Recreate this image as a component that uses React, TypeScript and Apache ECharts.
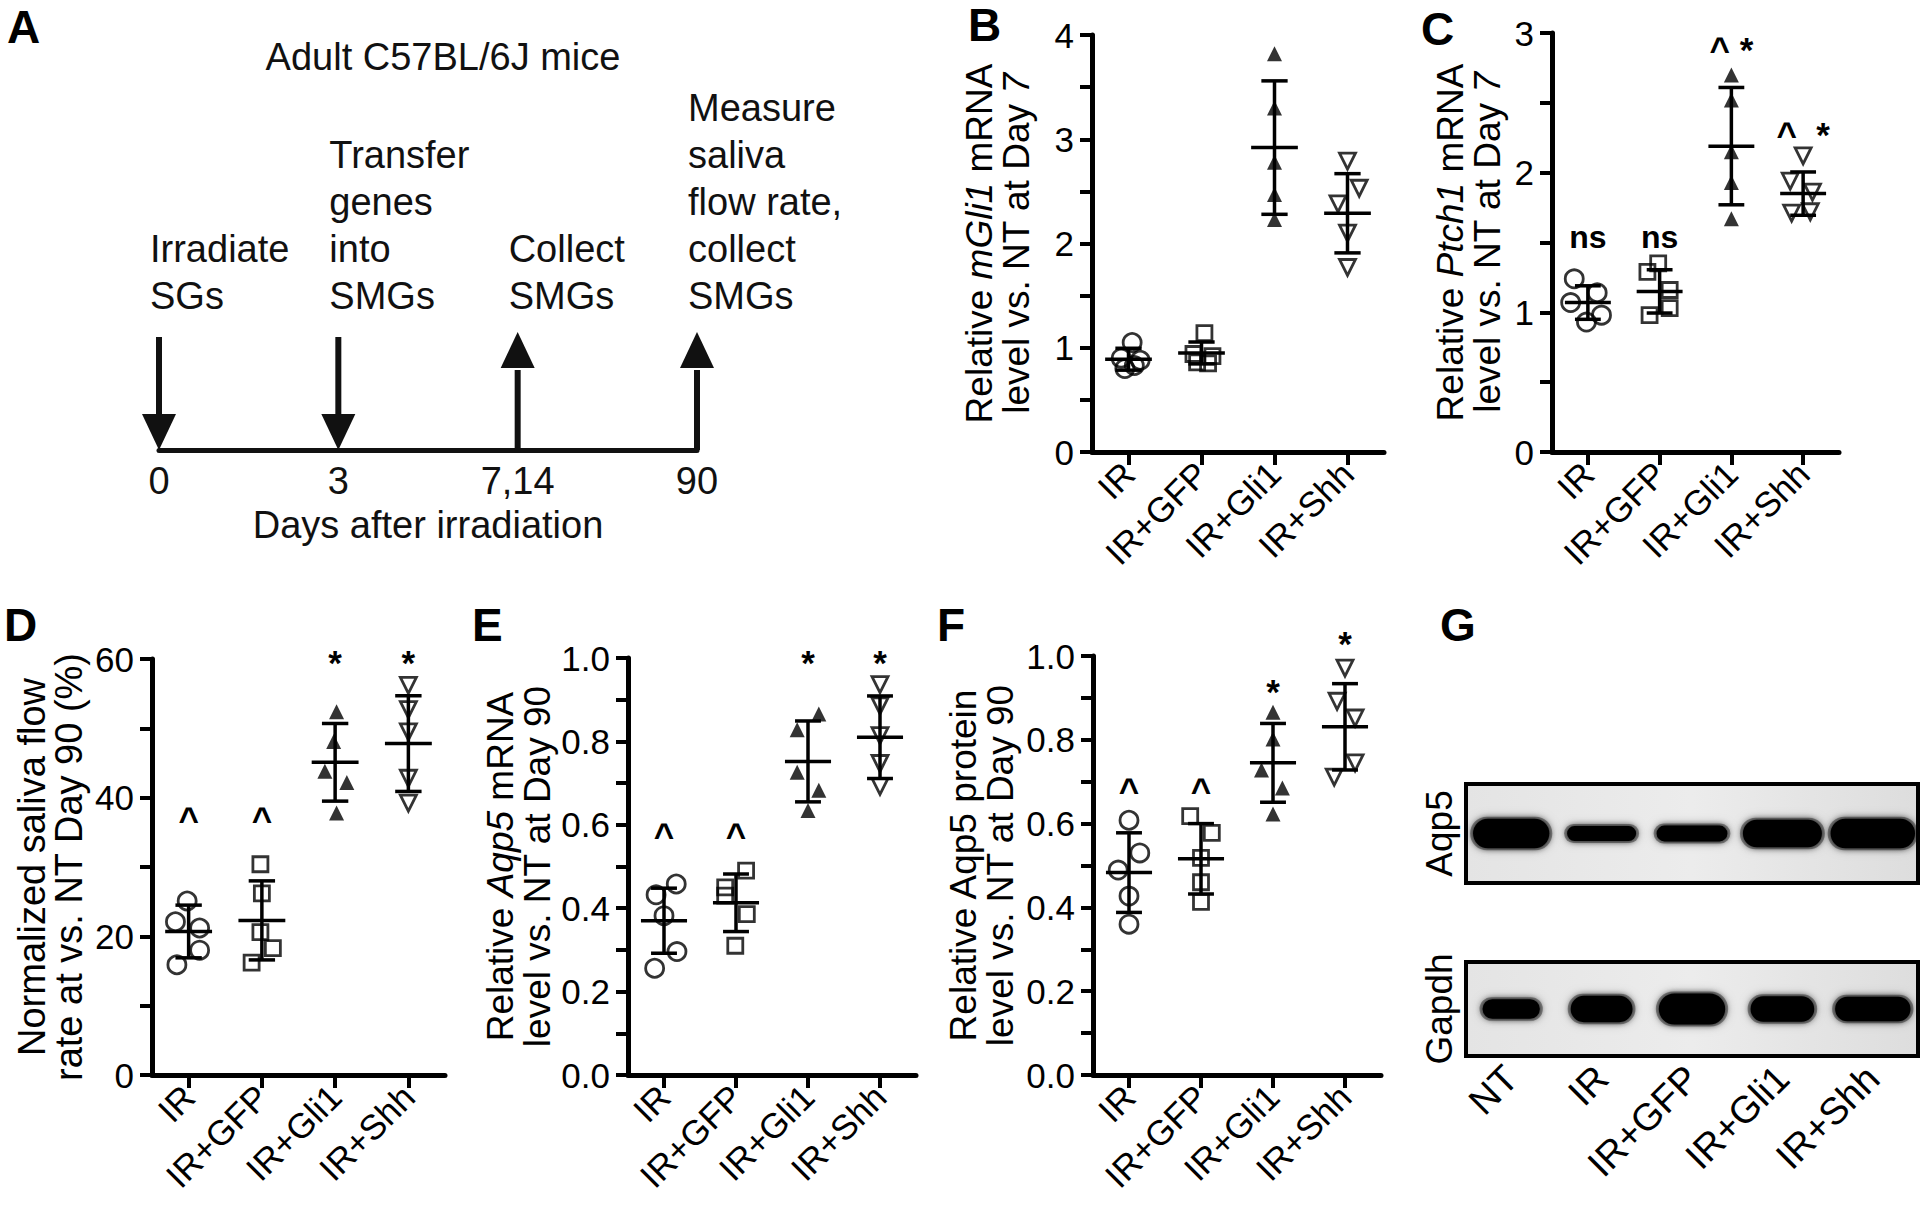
import React, { useEffect, useRef } from "react";
import * as echarts from "echarts";

const FONT = "'Liberation Sans', Arial, Helvetica, sans-serif";

// ---------- categories ----------
const groups = ["IR", "IR+GFP", "IR+Gli1", "IR+Shh"];
const blotLanes = ["NT", "IR", "IR+GFP", "IR+Gli1", "IR+Shh"];

// ---------- Panel A: timeline ----------
const timelineTicks = ["0", "3", "7,14", "90"];
const timelineEvents = [
  "Irradiate\nSGs",
  "Transfer\ngenes\ninto\nSMGs",
  "Collect\nSMGs",
  "Measure\nsaliva\nflow rate,\ncollect\nSMGs",
];
const timelineDirections = [-1, -1, 1, 1]; // -1 = arrow down, 1 = arrow up

// ---------- Panel B: mGli1 mRNA, day 7 ----------
const bValues = [
  [1.05, 0.9, 0.88, 0.8, 0.83],
  [1.14, 0.94, 0.92, 0.86, 0.85],
  [3.82, 3.3, 2.78, 2.47, 2.23],
  [2.79, 2.53, 2.38, 2.1, 1.77],
];
const bJitter = [
  [0.05, -0.1, 0.16, -0.05, 0.08],
  [0.04, -0.11, 0.15, -0.06, 0.09],
  [0, 0, 0, 0, 0],
  [0, 0.16, -0.13, 0, 0],
];
const bMean = [0.89, 0.95, 2.92, 2.29];
const bSD = [0.105, 0.105, 0.64, 0.38];
const bMarks: string[] = ["", "", "", ""];
const bMarkY = [0, 0, 0, 0];

// ---------- Panel C: Ptch1 mRNA, day 7 ----------
const cValues = [
  [1.24, 1.14, 1.07, 0.98, 0.93],
  [1.35, 1.29, 1.16, 1.03, 0.98],
  [2.7, 2.52, 2.15, 1.93, 1.67],
  [2.12, 1.94, 1.86, 1.71, 1.72],
];
const cJitter = [
  [-0.19, 0.13, -0.24, 0.19, -0.02],
  [-0.02, -0.17, 0.14, 0.14, -0.14],
  [0, 0, 0, 0, 0],
  [0, -0.18, 0.13, -0.16, 0.1],
];
const cMean = [1.07, 1.15, 2.19, 1.85];
const cSD = [0.12, 0.155, 0.42, 0.155];
const cMarks = ["ns", "ns", "^ *", "^  *"];
const cMarkY = [1.54, 1.54, 2.88, 2.27];

// ---------- Panel D: saliva flow rate, day 90 ----------
const dValues = [
  [25.1, 22.1, 21.2, 18.0, 15.9],
  [30.4, 26.2, 20.6, 18.3, 16.2],
  [52.4, 48.1, 43.8, 42.2, 37.8],
  [56.2, 52.7, 49.5, 42.8, 39.2],
];
const dJitter = [
  [-0.02, -0.18, 0.15, 0.15, -0.16],
  [-0.02, 0, -0.02, 0.15, -0.14],
  [0.02, -0.02, -0.14, 0.16, 0.02],
  [0, 0, 0, 0, 0],
];
const dMean = [20.7, 22.3, 45.1, 47.8];
const dSD = [3.8, 5.7, 5.6, 6.9];
const dMarks = ["^", "^", "*", "*"];
const dMarkY = [36.9, 36.9, 59.5, 59.5];

// ---------- Panel E: Aqp5 mRNA, day 90 ----------
const eValues = [
  [0.458, 0.432, 0.382, 0.296, 0.256],
  [0.49, 0.45, 0.43, 0.386, 0.31],
  [0.866, 0.828, 0.726, 0.683, 0.634],
  [0.936, 0.885, 0.814, 0.747, 0.692],
];
const eJitter = [
  [0.17, -0.11, 0, 0.18, -0.13],
  [0.14, -0.15, -0.15, 0.15, -0.01],
  [0.15, -0.15, -0.15, 0.15, 0],
  [0, 0, 0, 0, 0],
];
const eMean = [0.37, 0.413, 0.752, 0.81];
const eSD = [0.078, 0.069, 0.097, 0.099];
const eMarks = ["^", "^", "*", "*"];
const eMarkY = [0.575, 0.575, 0.99, 0.99];

// ---------- Panel F: Aqp5 protein, day 90 ----------
const fValues = [
  [0.608, 0.53, 0.489, 0.427, 0.36],
  [0.618, 0.578, 0.518, 0.46, 0.413],
  [0.866, 0.802, 0.728, 0.685, 0.623],
  [0.971, 0.892, 0.852, 0.745, 0.711],
];
const fJitter = [
  [0, 0.15, -0.15, 0, 0],
  [-0.15, 0.15, 0, 0, 0],
  [0, 0, -0.16, 0.13, 0],
  [0, -0.11, 0.14, 0.14, -0.15],
];
const fMean = [0.483, 0.516, 0.745, 0.831];
const fSD = [0.095, 0.084, 0.094, 0.103];
const fMarks = ["^", "^", "*", "*"];
const fMarkY = [0.68, 0.68, 0.915, 1.03];

// ---------- Panel G: western blot band estimates (fraction of lane / box) ----------
const aqp5BandWidth = [0.91, 0.83, 0.85, 0.94, 1.0];
const aqp5BandThickness = [0.3, 0.15, 0.16, 0.28, 0.3];
const gapdhBandWidth = [0.7, 0.75, 0.8, 0.77, 0.9];
const gapdhBandThickness = [0.21, 0.28, 0.33, 0.27, 0.26];

// ---------- styling ----------
const groupSymbols = ["circle", "rect", "triangle", "triangle"];
const groupFilled = [false, false, true, false];
const groupRotate = [0, 0, 0, 180];
const groupSizes = [18, 15, 15, 16];

type PanelCfg = {
  letter: string;
  grid: { left: number; top: number; width: number; height: number };
  min: number;
  max: number;
  interval: number;
  labelFmt: (v: number) => string;
  name: string;
  nameGap: number;
  nameSize: number;
  values: number[][];
  jitter: number[][];
  mean: number[];
  sd: number[];
  marks: string[];
  markY: number[];
};

const intFmt = (v: number) => (Math.abs(v - Math.round(v)) < 1e-6 ? String(Math.round(v)) : "");
const twentyFmt = (v: number) => (Math.round(v) % 20 === 0 ? String(Math.round(v)) : "");
const fifthFmt = (v: number) => (Math.round(v * 10) % 2 === 0 ? v.toFixed(1) : "");

const panels: PanelCfg[] = [
  {
    letter: "B",
    grid: { left: 1092, top: 35, width: 292, height: 417 },
    min: 0, max: 4, interval: 0.5, labelFmt: intFmt,
    name: "{n|Relative }{i|mGli1}{n| mRNA}\n{n|level vs. NT at Day }{i|7}",
    nameGap: 57, nameSize: 37,
    values: bValues, jitter: bJitter, mean: bMean, sd: bSD, marks: bMarks, markY: bMarkY,
  },
  {
    letter: "C",
    grid: { left: 1552, top: 33, width: 287, height: 419 },
    min: 0, max: 3, interval: 0.5, labelFmt: intFmt,
    name: "{n|Relative }{i|Ptch1}{n| mRNA}\n{n|level vs. NT at Day }{i|7}",
    nameGap: 46, nameSize: 37,
    values: cValues, jitter: cJitter, mean: cMean, sd: cSD, marks: cMarks, markY: cMarkY,
  },
  {
    letter: "D",
    grid: { left: 152, top: 659, width: 293, height: 416 },
    min: 0, max: 60, interval: 10, labelFmt: twentyFmt,
    name: "{n|Normalized saliva flow}\n{n|rate at vs. NT Day 90 (%)}",
    nameGap: 65, nameSize: 38,
    values: dValues, jitter: dJitter, mean: dMean, sd: dSD, marks: dMarks, markY: dMarkY,
  },
  {
    letter: "E",
    grid: { left: 628, top: 658, width: 288, height: 417 },
    min: 0, max: 1, interval: 0.1, labelFmt: fifthFmt,
    name: "{n|Relative }{i|Aqp5}{n| mRNA}\n{n|level vs. NT at Day 90}",
    nameGap: 72, nameSize: 37,
    values: eValues, jitter: eJitter, mean: eMean, sd: eSD, marks: eMarks, markY: eMarkY,
  },
  {
    letter: "F",
    grid: { left: 1093, top: 656, width: 288, height: 419 },
    min: 0, max: 1, interval: 0.1, labelFmt: fifthFmt,
    name: "{n|Relative Aqp5 protein}\n{n|level vs. NT at Day 90}",
    nameGap: 74, nameSize: 37,
    values: fValues, jitter: fJitter, mean: fMean, sd: fSD, marks: fMarks, markY: fMarkY,
  },
];

function buildOption() {
  const grid: any[] = [];
  const xAxis: any[] = [];
  const yAxis: any[] = [];
  const series: any[] = [];

  // ---- Panel A (grid 0) ----
  grid.push({ left: 159, top: 300, width: 538, height: 150 });
  xAxis.push({
    gridIndex: 0,
    type: "category",
    data: timelineTicks,
    boundaryGap: false,
    axisLine: { show: true, onZero: false, lineStyle: { color: "#111", width: 5 } },
    axisTick: { show: false },
    axisLabel: { color: "#111", fontSize: 38, fontFamily: FONT, margin: 12, interval: 0 },
    name: "Days after irradiation",
    nameLocation: "middle",
    nameGap: 56,
    nameTextStyle: { color: "#111", fontSize: 38, fontFamily: FONT },
  });
  yAxis.push({ gridIndex: 0, type: "value", min: 0, max: 1, show: false });
  series.push({
    type: "custom",
    xAxisIndex: 0,
    yAxisIndex: 0,
    data: timelineDirections.map((d, i) => [i, d]),
    renderItem: (params: any, api: any) => {
      const i = params.dataIndex;
      const p = api.coord([api.value(0), 0]);
      const dir = api.value(1);
      const x = p[0];
      const y = p[1];
      const children: any[] = [];
      if (dir < 0) {
        children.push({ type: "line", shape: { x1: x, y1: y - 113, x2: x, y2: y - 32 }, style: { stroke: "#111", lineWidth: 6 } });
        children.push({ type: "polygon", shape: { points: [[x - 17, y - 36], [x + 17, y - 36], [x, y]] }, style: { fill: "#111" } });
      } else {
        children.push({ type: "line", shape: { x1: x, y1: y - 80, x2: x, y2: y }, style: { stroke: "#111", lineWidth: 6 } });
        children.push({ type: "polygon", shape: { points: [[x - 17, y - 82], [x + 17, y - 82], [x, y - 118]] }, style: { fill: "#111" } });
      }
      children.push({
        type: "text",
        x: x - 9,
        y: y - 131,
        style: {
          text: timelineEvents[i],
          fill: "#111",
          font: `38px ${FONT}`,
          align: "left",
          verticalAlign: "bottom",
          lineHeight: 47,
        },
      });
      return { type: "group", children };
    },
  });

  // ---- Panels B–F ----
  panels.forEach((pc) => {
    const gi = grid.length;
    grid.push({ ...pc.grid });
    xAxis.push({
      gridIndex: gi,
      type: "category",
      data: groups,
      boundaryGap: true,
      axisLine: { show: true, onZero: false, lineStyle: { color: "#000", width: 5 } },
      axisTick: { show: true, alignWithLabel: true, length: 13, lineStyle: { color: "#000", width: 4 } },
      axisLabel: { rotate: 45, interval: 0, color: "#000", fontSize: 35, fontFamily: FONT, margin: 16 },
      splitLine: { show: false },
    });
    const valIdx = xAxis.length;
    xAxis.push({ gridIndex: gi, type: "value", min: -0.5, max: 3.5, show: false });
    const yi = yAxis.length;
    yAxis.push({
      gridIndex: gi,
      type: "value",
      min: pc.min,
      max: pc.max,
      interval: pc.interval,
      axisLine: { show: true, onZero: false, lineStyle: { color: "#000", width: 5 } },
      axisTick: { show: true, length: 12, lineStyle: { color: "#000", width: 4 } },
      axisLabel: { formatter: pc.labelFmt, color: "#000", fontSize: 35, fontFamily: FONT, margin: 18 },
      splitLine: { show: false },
      name: pc.name,
      nameLocation: "middle",
      nameGap: pc.nameGap,
      nameTextStyle: {
        color: "#000",
        fontSize: pc.nameSize,
        fontFamily: FONT,
        lineHeight: 37,
        rich: {
          n: { fontSize: pc.nameSize, fontFamily: FONT, color: "#000", lineHeight: 37 },
          i: { fontSize: pc.nameSize, fontFamily: FONT, color: "#000", fontStyle: "italic", lineHeight: 37 },
        },
      },
    });

    // mean & SD bars
    series.push({
      type: "custom",
      xAxisIndex: valIdx,
      yAxisIndex: yi,
      z: 3,
      data: groups.map((_, i) => [i, pc.mean[i], pc.sd[i]]),
      renderItem: (params: any, api: any) => {
        const x = api.value(0);
        const m = api.value(1);
        const s = api.value(2);
        const c = api.coord([x, m]);
        const hi = api.coord([x, m + s]);
        const lo = api.coord([x, m - s]);
        const unit = api.size([1, 0])[0];
        const mw = unit * 0.32;
        const cw = unit * 0.18;
        const st = { stroke: "#000", lineWidth: 3.5 };
        return {
          type: "group",
          children: [
            { type: "line", shape: { x1: c[0] - mw, y1: c[1], x2: c[0] + mw, y2: c[1] }, style: st },
            { type: "line", shape: { x1: c[0], y1: hi[1], x2: c[0], y2: lo[1] }, style: st },
            { type: "line", shape: { x1: c[0] - cw, y1: hi[1], x2: c[0] + cw, y2: hi[1] }, style: st },
            { type: "line", shape: { x1: c[0] - cw, y1: lo[1], x2: c[0] + cw, y2: lo[1] }, style: st },
          ],
        };
      },
    });

    // individual points
    groups.forEach((g, i) => {
      series.push({
        type: "scatter",
        name: `${pc.letter}-${g}`,
        xAxisIndex: valIdx,
        yAxisIndex: yi,
        z: 4,
        symbol: groupSymbols[i],
        symbolSize: groupSizes[i],
        symbolRotate: groupRotate[i],
        itemStyle: groupFilled[i]
          ? { color: "#000", borderColor: "#000", borderWidth: 0 }
          : { color: "rgba(255,255,255,0)", borderColor: "#000", borderWidth: 2.8 },
        data: pc.values[i].map((v, j) => [i + pc.jitter[i][j], v]),
        emphasis: { disabled: true },
      });
    });

    // significance marks
    series.push({
      type: "custom",
      xAxisIndex: valIdx,
      yAxisIndex: yi,
      z: 5,
      data: groups.map((_, i) => [i, pc.markY[i]]),
      renderItem: (params: any, api: any) => {
        const t = pc.marks[params.dataIndex];
        if (!t) return null;
        const p = api.coord([api.value(0), api.value(1)]);
        return {
          type: "text",
          x: p[0],
          y: p[1],
          style: {
            text: t,
            fill: "#000",
            font: t === "ns" ? `bold 32px ${FONT}` : `bold 35px ${FONT}`,
            align: "center",
            verticalAlign: "middle",
          },
        };
      },
    });
  });

  // ---- Panel G: blots ----
  const blots = [
    { name: "Aqp5", top: 784, height: 99, width: aqp5BandWidth, thick: aqp5BandThickness, labels: false },
    { name: "Gapdh", top: 962, height: 94, width: gapdhBandWidth, thick: gapdhBandThickness, labels: true },
  ];
  blots.forEach((b) => {
    const gi = grid.length;
    grid.push({
      left: 1466,
      top: b.top,
      width: 452,
      height: b.height,
      show: true,
      backgroundColor: {
        type: "linear", x: 0, y: 0, x2: 1, y2: 0,
        colorStops: [
          { offset: 0, color: "#e4e4e4" },
          { offset: 0.5, color: "#ececec" },
          { offset: 1, color: "#dddddd" },
        ],
      },
      borderColor: "#000",
      borderWidth: 4,
    });
    const xi = xAxis.length;
    xAxis.push({
      gridIndex: gi,
      type: "category",
      data: blotLanes,
      boundaryGap: true,
      axisLine: { show: false },
      axisTick: { show: false },
      axisLabel: b.labels
        ? { rotate: 45, interval: 0, color: "#000", fontSize: 38, fontFamily: FONT, margin: 16 }
        : { show: false },
      splitLine: { show: false },
    });
    const yi = yAxis.length;
    yAxis.push({
      gridIndex: gi,
      type: "value",
      min: 0,
      max: 1,
      axisLine: { show: false },
      axisTick: { show: false },
      axisLabel: { show: false },
      splitLine: { show: false },
      name: b.name,
      nameLocation: "middle",
      nameGap: 8,
      nameTextStyle: { color: "#000", fontSize: 37, fontFamily: FONT },
    });
    series.push({
      type: "custom",
      xAxisIndex: xi,
      yAxisIndex: yi,
      data: blotLanes.map((_, i) => [i, b.width[i], b.thick[i]]),
      renderItem: (params: any, api: any) => {
        const c = api.coord([api.value(0), 0.5]);
        const lane = api.size([1, 0])[0];
        const unitH = api.size([0, 1])[1];
        const w = lane * api.value(1);
        const h = unitH * api.value(2);
        return {
          type: "group",
          children: [
            {
              type: "rect",
              shape: { x: c[0] - w / 2, y: c[1] - h / 2 - 2, width: w, height: h + 4, r: (h + 4) / 2 },
              style: { fill: "rgba(0,0,0,0.35)", shadowBlur: 10, shadowColor: "rgba(0,0,0,0.6)" },
            },
            {
              type: "rect",
              shape: { x: c[0] - w / 2 + 3, y: c[1] - h / 2, width: w - 6, height: h, r: h / 2 },
              style: { fill: "#030303", shadowBlur: 6, shadowColor: "rgba(0,0,0,0.9)" },
            },
          ],
        };
      },
    });
  });

  // ---- graphic: panel letters and title ----
  const letter = (t: string, x: number, y: number) => ({
    type: "text",
    left: x,
    top: y,
    style: { text: t, fill: "#000", font: `bold 46px ${FONT}` },
  });
  const graphic: any[] = [
    letter("A", 7, 4),
    letter("B", 968, 2),
    letter("C", 1421, 6),
    letter("D", 4, 602),
    letter("E", 472, 602),
    letter("F", 937, 602),
    letter("G", 1440, 602),
    {
      type: "text",
      x: 443,
      y: 57,
      style: {
        text: "Adult C57BL/6J mice",
        fill: "#111",
        font: `38px ${FONT}`,
        align: "center",
        verticalAlign: "middle",
      },
    },
  ];

  return {
    animation: false,
    backgroundColor: "#ffffff",
    textStyle: { fontFamily: FONT },
    grid,
    xAxis,
    yAxis,
    series,
    graphic,
  };
}

export default function App() {
  const ref = useRef<HTMLDivElement>(null);
  useEffect(() => {
    if (!ref.current) return;
    const chart = echarts.init(ref.current, undefined, { renderer: "svg" });
    chart.setOption(buildOption() as any);
    return () => chart.dispose();
  }, []);
  return (
    <div
      ref={ref}
      style={{ position: "absolute", left: 0, top: 0, width: 1920, height: 1226, background: "#fff" }}
    />
  );
}
